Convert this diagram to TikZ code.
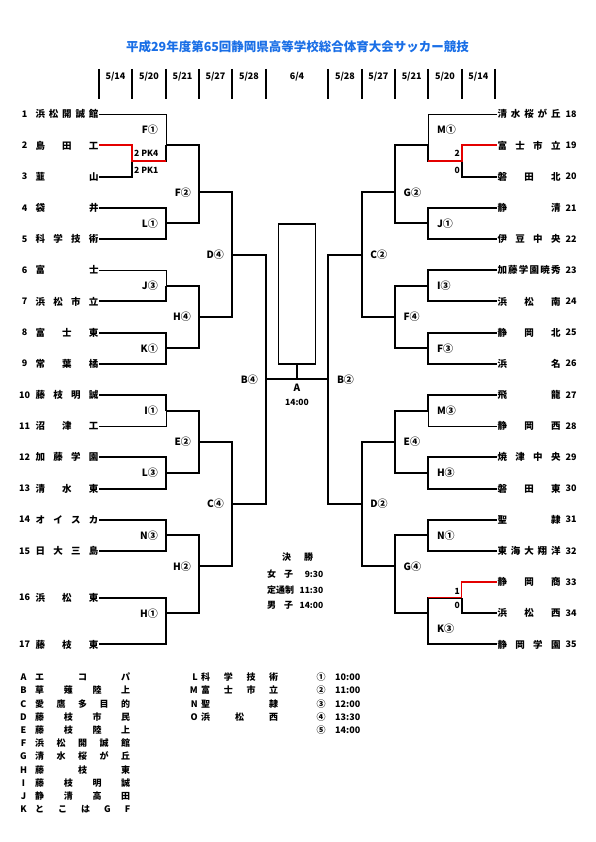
\documentclass[tikz,border=0pt]{standalone}
\usepackage{fontspec}
\setmainfont{Noto Sans CJK JP}
\usetikzlibrary{positioning, calc}
\definecolor{TitleBlue}{RGB}{25, 110, 230}
\definecolor{WinRed}{RGB}{228, 0, 0}

% spread the characters of a name over a fixed width
\newcommand\spread[2][63pt]{\hbox to #1{\expandafter\spreadloop#2\relax}}
\def\spreadloop#1#2{#1\ifx\relax#2\else\hfill\expandafter\spreadloop\expandafter#2\fi}

\tikzset{
    team/.style={inner sep=0pt, outer xsep=0.5pt, font=\bfseries\fontsize{9.5}{10}\selectfont, text height=7.8pt, text depth=0.6pt},
    num/.style={inner sep=0pt, font=\bfseries\fontsize{9}{10}\selectfont},
    mlab/.style={inner sep=0pt, font=\bfseries\fontsize{10}{11}\selectfont},
    score/.style={inner sep=0pt, font=\bfseries\fontsize{8.5}{9}\selectfont},
    keytext/.style={inner sep=0pt, font=\bfseries\fontsize{9}{10}\selectfont, text height=7.2pt, text depth=0.6pt}
}

\begin{document}
\begin{tikzpicture}[
        x=1pt, y=-1pt,
        % Bracket lines
        wire/.style={line width=2pt},
        thinwire/.style={line width=1pt},
        winwire/.style={line width=2pt, draw=WinRed},
        headline/.style={line width=2pt},
        % Boxes and headings
        cupbox/.style={draw, line width=1.2pt, minimum width=37pt, minimum height=140pt, inner sep=0pt},
        titletext/.style={font=\bfseries\fontsize{12.5}{14}\selectfont, text=TitleBlue, inner sep=0pt},
        datetext/.style={font=\bfseries\fontsize{9}{10}\selectfont, inner sep=0pt}
    ]
    \useasboundingbox (0,0) rectangle (595,842);

    % --- TITLE AND DATES ---
    \node[titletext] (title) at (297.5,47) {平成29年度第65回静岡県高等学校総合体育大会サッカー競技};
    \foreach \x in {99,132,166,199,232,266,328.3,361.7,395,428.3,461.7,495}
        \draw[headline] (\x,69) -- (\x,99);
    \foreach \x/\mo/\dy [count=\i] in {115.5/5/14, 149/5/20, 182.5/5/21, 215.5/5/27, 249/5/28, 297/6/4,
            345/5/28, 378.3/5/27, 411.7/5/21, 445/5/20, 478.3/5/14}
        \node[datetext] (d\i) at (\x,76.5) {\mo/\dy};

    % --- TEAMS ---
    \foreach \n/\y/\name in {1/114.3/浜松開誠館, 2/145.5/島田工, 3/176.7/韮山, 4/207.8/袋井,
            5/239.0/科学技術, 6/270.2/富士, 7/301.4/浜松市立, 8/332.6/富士東, 9/363.7/常葉橘,
            10/394.9/藤枝明誠, 11/426.1/沼津工, 12/457.3/加藤学園, 13/488.5/清水東,
            14/519.6/オイスカ, 15/550.8/日大三島, 16/597.6/浜松東, 17/644.4/藤枝東} {
        \node[num] (n\n) at (24.5,\y) {\n};
        \node[team, anchor=west] (t\n) at (35,\y) {\spread{\name}};
    }
    \foreach \n/\y/\name in {18/114.3/清水桜が丘, 19/145.5/富士市立, 20/176.7/磐田北, 21/207.8/静清,
            22/239.0/伊豆中央, 23/270.2/加藤学園暁秀, 24/301.4/浜松南, 25/332.6/静岡北, 26/363.7/浜名,
            27/394.9/飛龍, 28/426.1/静岡西, 29/457.3/焼津中央, 30/488.5/磐田東, 31/519.6/聖隷,
            32/550.8/東海大翔洋, 33/582.0/静岡商, 34/613.2/浜松西, 35/644.4/静岡学園} {
        \node[team, anchor=west] (t\n) at (497,\y) {\spread{\name}};
        \node[num] (n\n) at (571,\y) {\n};
    }

    % --- MATCH POINTS ---
    % left half
    \coordinate (p23) at (132,161.1);
    \coordinate (F1) at (166,145.5);
    \coordinate (L1) at (166,223.4);
    \coordinate (J3) at (166,285.8);
    \coordinate (K1) at (166,348.2);
    \coordinate (I1) at (166,410.5);
    \coordinate (L3) at (166,472.9);
    \coordinate (N3) at (166,535.2);
    \coordinate (H1) at (166,613.2);
    \coordinate (F2) at (199,192.3);
    \coordinate (H4) at (199,317.0);
    \coordinate (E2) at (199,441.7);
    \coordinate (H2) at (199,566.4);
    \coordinate (D4) at (232,254.6);
    \coordinate (C4) at (232,504.1);
    \coordinate (B4) at (266,379.3);
    % right half
    \coordinate (p1920) at (461.7,161.1);
    \coordinate (p3334) at (461.7,597.6);
    \coordinate (M1) at (428.3,145.5);
    \coordinate (J1) at (428.3,223.4);
    \coordinate (I3) at (428.3,285.8);
    \coordinate (F3) at (428.3,348.2);
    \coordinate (M3) at (428.3,410.5);
    \coordinate (H3) at (428.3,472.9);
    \coordinate (N1) at (428.3,535.2);
    \coordinate (K3) at (428.3,613.2);
    \coordinate (G2) at (395,192.3);
    \coordinate (F4) at (395,317.0);
    \coordinate (E4) at (395,441.7);
    \coordinate (G4) at (395,566.4);
    \coordinate (C2) at (361.7,254.6);
    \coordinate (D2) at (361.7,504.1);
    \coordinate (B2) at (328.3,379.3);

    % --- FIRST ROUND ---
    \foreach \t/\m in {3/p23, 4/L1, 5/L1, 7/J3, 8/K1, 9/K1, 10/I1, 12/L3, 13/L3, 14/N3, 15/N3, 16/H1, 17/H1}
        \draw[wire] (t\t.east) -| (\m);
    \foreach \t/\m in {1/F1, 6/J3, 11/I1}
        \draw[thinwire] (t\t.east) -| (\m);
    \foreach \t/\m in {20/p1920, 21/J1, 22/J1, 23/I3, 24/I3, 25/F3, 26/F3, 27/M3, 29/H3, 30/H3, 31/N1, 32/N1, 34/p3334, 35/K3}
        \draw[wire] (t\t.west) -| (\m);
    \foreach \t/\m in {18/M1, 28/M3}
        \draw[thinwire] (t\t.west) -| (\m);
    \draw[wire] (p23) -| (F1);
    \draw[wire] (p1920) -| (M1);
    \draw[wire] (p3334) -| (K3);

    % winners of the decided games (red)
    \draw[winwire] (t2.east) -| (p23) -- (p23 -| F1);
    \draw[winwire] (t19.west) -| (p1920) -- (p1920 -| M1);
    \draw[winwire, line width=1.5pt] (t33.west) -| (p3334) -- (p3334 -| K3);

    % --- LATER ROUNDS ---
    \foreach \a/\b in {F1/F2, L1/F2, J3/H4, K1/H4, I1/E2, L3/E2, N3/H2, H1/H2,
            F2/D4, H4/D4, E2/C4, H2/C4, D4/B4, C4/B4,
            M1/G2, J1/G2, I3/F4, F3/F4, M3/E4, H3/E4, N1/G4, K3/G4,
            G2/C2, F4/C2, E4/D2, G4/D2, C2/B2, D2/B2}
        \draw[wire] (\a) -| (\b);

    % --- FINAL ---
    \node[cupbox] (cup) at (297.2,294) {};
    \draw[wire] (B4) -- (B2);
    \draw[wire] (cup.south) -- (cup.south |- B4);
    \node[mlab] (finA) at (297,387.5) {A};
    \node[score] (finT) at (297,402.5) {14:00};

    % --- MATCH LABELS ---
    \foreach \m/\txt in {L1/L①, J3/J③, K1/K①, I1/I①, L3/L③, N3/N③, H1/H①,
            F2/F②, H4/H④, E2/E②, H2/H②, D4/D④, C4/C④, B4/B④}
        \node[mlab, anchor=east] (lab\m) at ([xshift=-8pt]\m) {\txt};
    \node[mlab, anchor=east] (labF1) at (158,129.9) {F①};
    \foreach \m/\txt in {J1/J①, I3/I③, F3/F③, M3/M③, H3/H③, N1/N①,
            G2/G②, F4/F④, E4/E④, G4/G④, C2/C②, D2/D②, B2/B②}
        \node[mlab, anchor=west] (lab\m) at ([xshift=8.5pt]\m) {\txt};
    \node[mlab, anchor=west] (labM1) at (436.8,129.9) {M①};
    \node[mlab, anchor=west] (labK3) at (436.8,628.8) {K③};

    % scores
    \node[score, anchor=west] (sc2) at (134,153.3) {2 PK4};
    \node[score, anchor=west] (sc3) at (134,170.4) {2 PK1};
    \node[score, anchor=east] (sc19) at (460,153.3) {2};
    \node[score, anchor=east] (sc20) at (460,170.4) {0};
    \node[score, anchor=east] (sc33) at (460,591) {1};
    \node[score, anchor=east] (sc34) at (460,605.7) {0};

    % --- FINAL TIMES ---
    \node[keytext] (fin) at (297.5,557.5) {決\hspace{13pt}勝};
    \node[keytext, anchor=west] (finW) at (267,574.5) {女\hspace{8pt}子};
    \node[score, anchor=east] (finWt) at (323.5,574.5) {9:30};
    \node[keytext, anchor=west] (finP) at (267,590) {定通制};
    \node[score, anchor=east] (finPt) at (323.5,590) {11:30};
    \node[keytext, anchor=west] (finM) at (267,605.5) {男\hspace{8pt}子};
    \node[score, anchor=east] (finMt) at (323.5,605.5) {14:00};

    % --- VENUES AND KICK-OFF TIMES ---
    \foreach \k/\name [count=\i from 0] in {A/エコパ, B/草薙陸上, C/愛鷹多目的, D/藤枝市民, E/藤枝陸上,
            F/浜松開誠館, G/清水桜が丘, H/藤枝東, I/藤枝明誠, J/静清高田, K/とこはGF} {
        \node[keytext] (kl\k) at (23.5,{677.3+13.2*\i}) {\k};
        \node[keytext, anchor=west] (kn\k) at (35,{677.3+13.2*\i}) {\spread[95pt]{\name}};
    }
    \foreach \k/\name [count=\i from 0] in {L/科学技術, M/富士市立, N/聖隷, O/浜松西} {
        \node[keytext, anchor=east] (kl\k) at (198,{677.3+13.2*\i}) {\k};
        \node[keytext, anchor=west] (kn\k) at (201,{677.3+13.2*\i}) {\spread[77pt]{\name}};
    }
    \foreach \c/\t [count=\i from 0] in {①/10:00, ②/11:00, ③/12:00, ④/13:30, ⑤/14:00} {
        \node[keytext] (kc\i) at (321,{677.3+13.2*\i}) {\c};
        \node[keytext, anchor=west] (kt\i) at (335,{677.3+13.2*\i}) {\t};
    }

\end{tikzpicture}
\end{document}
